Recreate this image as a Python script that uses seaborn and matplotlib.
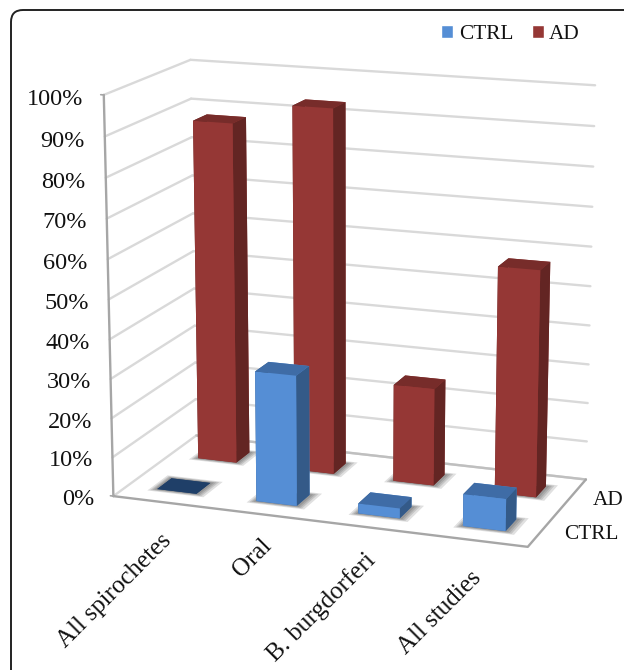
import numpy as np
import seaborn as sns
import matplotlib
matplotlib.use('Agg')
import matplotlib.pyplot as plt
from matplotlib.patches import FancyBboxPatch, Patch
from matplotlib.transforms import IdentityTransform
from mpl_toolkits.mplot3d.art3d import Poly3DCollection

categories = ['All spirochetes', 'Oral', 'B. burgdorferi', 'All studies']
series = ['CTRL', 'AD']
ctrl = [0, 33, 2.5, 8]
ad = [88, 93.5, 25, 57.5]
percent_ticks = list(range(0, 101, 10))

sns.set_theme(style='white')
plt.rcParams['font.family'] = ['Liberation Serif', 'DejaVu Serif']

# front, top, side de cada serie
blue = sns.color_palette(['#558ed5', '#3f6ca6', '#345a88'])
red = sns.color_palette(['#953735', '#772c2a', '#632523'])
flat_top = '#1f3f68'
grid_color = '#d9d9d9'
axis_color = '#a6a6a6'
text_color = '#111111'

bar_w = 0.40
bar_d = 0.34

fig = plt.figure(figsize=(6.24, 6.7), dpi=100)
ax = fig.add_axes([0.1361, 0.1647, 0.8329, 0.8329 * 6.24 / 6.7], projection='3d', computed_zorder=False)
ax.set_box_aspect((1, 0.4897, 0.9446), zoom=1.1868)
ax.set_proj_type('persp', focal_length=0.9537)
ax.view_init(elev=14.723, azim=-70.0988)
ax.set_axis_off()

# lineas de las paredes
for z in percent_ticks:
    ax.plot([0, 0], [0, 2], [z, z], color=grid_color, lw=1.7, zorder=1)
    ax.plot([0, 4], [2, 2], [z, z], color=grid_color, lw=1.7, zorder=1)
ax.plot([0, 4], [2, 2], [0, 0], color='#bfbfbf', lw=1.7, zorder=1)
ax.plot([0, 0], [0, 0], [0, 100], color=axis_color, lw=1.7, zorder=2)
ax.plot([0, 4, 4], [0, 0, 2], [0, 0, 0], color=axis_color, lw=1.7, zorder=2)
for z in [0, 100]:
    ax.plot([-0.03, 0], [0, 0], [z, z], color=axis_color, lw=1.2, zorder=2)


def draw_bar(x, y, h, colors, zorder):
    x0, y0 = x - bar_w / 2, y - bar_d / 2
    # sombra suave en el suelo
    for m in [0.07, 0.05, 0.035, 0.02]:
        verts = [[(x0 - m, y0 - m, 0), (x0 + bar_w + m * 1.4, y0 - m, 0),
                  (x0 + bar_w + m * 1.4, y0 + bar_d + m, 0), (x0 - m, y0 + bar_d + m, 0)]]
        ax.add_collection3d(Poly3DCollection(verts, facecolor=(0, 0, 0, 0.12), edgecolor='none', zorder=zorder))
    front, top, side = colors
    if h == 0:
        top = flat_top
    faces = [top, top, front, front, side, side]
    ax.bar3d(x0, y0, 0, bar_w, bar_d, h, color=faces, shade=False, zorder=zorder + 1,
             linewidth=0, edgecolor='none')


for i, h in enumerate(ad):
    draw_bar(i + 0.5, 1.5, h, red, 10 + i * 2)
for i, h in enumerate(ctrl):
    draw_bar(i + 0.5, 0.5, h, blue, 30 + i * 2)

ax.set_xlim(0, 4)
ax.set_ylim(0, 2)
ax.set_zlim(0, 100)
ax.margins(0)

for z in percent_ticks:
    ax.text(-0.2, 0, z - 1.5, f'{z}%', ha='right', va='center', fontsize=17.5, color=text_color)
for j, name in enumerate(series):
    ax.text(4.2, j + 0.5, -0.8, name, ha='left', va='center', fontsize=15.3, color=text_color)

# Text3D ignora rotation, asi que estas van en pixeles de la figura
label_ends = [(168, 537), (268, 542), (372, 557), (478, 575)]
for name, (px, py) in zip(categories, label_ends):
    fig.text(px / 624, 1 - py / 670, name, ha='right', va='center', rotation=45, rotation_mode='anchor',
             fontsize=18, color=text_color)

# marco redondeado, solo se ven arriba e izquierda
fig.add_artist(FancyBboxPatch((11, -40), 700, 700, boxstyle='round,pad=0,rounding_size=12',
                              transform=IdentityTransform(), facecolor='none', edgecolor='#222222', lw=1.4))

handles = [Patch(facecolor=blue[0]), Patch(facecolor=red[0])]
fig.legend(handles, series, ncol=2, loc='upper right', bbox_to_anchor=(0.96, 0.991), frameon=False,
           fontsize=15.3, handlelength=0.58, handleheight=0.58, handletextpad=0.25, columnspacing=0.87,
           labelcolor=text_color)

fig.savefig('out.png', dpi=100)
